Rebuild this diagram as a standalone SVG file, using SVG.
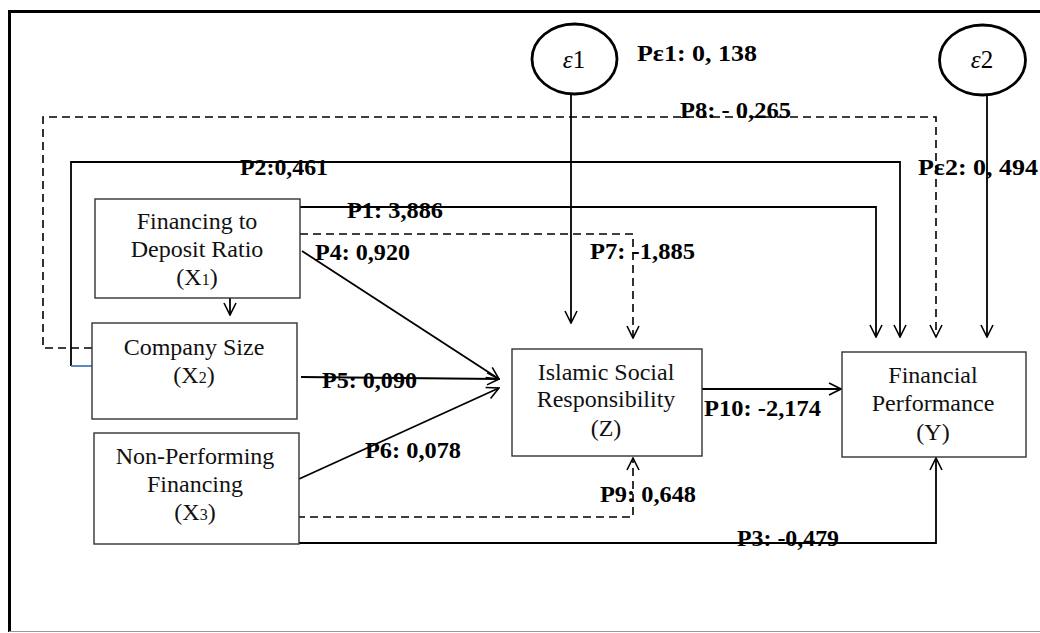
<svg xmlns="http://www.w3.org/2000/svg" width="1040" height="633" viewBox="0 0 1040 633">
<defs>
<marker id="arr" viewBox="0 0 14 14" refX="13" refY="7" markerWidth="14" markerHeight="14" markerUnits="userSpaceOnUse" orient="auto">
<path d="M1,1 L13,7 L1,13" fill="none" stroke="#000" stroke-width="1.6"/>
</marker>
<style>
.box{fill:#fff;stroke:#333;stroke-width:1.4}
.ell{fill:#fff;stroke:#000;stroke-width:2.8}
.ln{fill:none;stroke:#000;stroke-width:1.8}
.ds{fill:none;stroke:#000;stroke-width:1.6;stroke-dasharray:8,5}
.nt{font-family:"Liberation Serif","Times New Roman",serif;font-size:24px;fill:#111;text-anchor:middle}
.lb{font-family:"Liberation Serif","Times New Roman",serif;font-size:23px;font-weight:bold;fill:#000}
.eps{font-family:"Liberation Serif","Times New Roman",serif;font-size:25px;fill:#000;text-anchor:middle}
</style>
</defs>
<rect x="0" y="0" width="1040" height="633" fill="#fff"/>
<g id="frame">
<line x1="8" y1="11.5" x2="1040" y2="11.5" stroke="#000" stroke-width="3"/>
<line x1="9.5" y1="10" x2="9.5" y2="632" stroke="#000" stroke-width="3"/>
<line x1="9" y1="631.5" x2="1040" y2="631.5" stroke="#999" stroke-width="1.2"/>
</g>
<g id="connectors">
<path class="ds" d="M92,348 H43 V117 H936 V337" marker-end="url(#arr)"/>
<path class="ln" d="M71,366 V162 H900 V337" marker-end="url(#arr)"/>
<line x1="71" y1="366" x2="92" y2="366" stroke="#4a7ebb" stroke-width="1.8"/>
<path class="ln" d="M300,207 H876 V337" marker-end="url(#arr)"/>
<path class="ds" d="M300,234 H633 V338" marker-end="url(#arr)"/>
<path class="ln" d="M571,94 V323" marker-end="url(#arr)"/>
<path class="ln" d="M987,95 V337" marker-end="url(#arr)"/>
<path class="ln" d="M230,287 V315" marker-end="url(#arr)"/>
<path class="ln" d="M302,251 L499,379" marker-end="url(#arr)"/>
<path class="ln" d="M301,377 L499,379" marker-end="url(#arr)"/>
<path class="ln" d="M299,479 L499,388" marker-end="url(#arr)"/>
<path class="ds" d="M297,517 H633 V458" marker-end="url(#arr)"/>
<path class="ln" d="M299,543 H936 V458" marker-end="url(#arr)"/>
<path class="ln" d="M702,389 H841" marker-end="url(#arr)"/>
</g>
<g id="e1">
<ellipse class="ell" cx="574.5" cy="59" rx="42.5" ry="35"/>
<text class="eps" x="574" y="68"><tspan font-style="italic">ε</tspan>1</text>
</g>
<g id="e2">
<ellipse class="ell" cx="982.5" cy="60" rx="43" ry="35"/>
<text class="eps" x="982" y="68"><tspan font-style="italic">ε</tspan>2</text>
</g>
<g id="X1">
<rect class="box" x="95" y="199" width="205" height="99"/>
<text class="nt" x="197" y="229">Financing to</text>
<text class="nt" x="197" y="257">Deposit Ratio</text>
<text class="nt" x="197" y="285">(X<tspan font-size="16">1</tspan>)</text>
</g>
<g id="X2">
<rect class="box" x="92" y="323" width="205" height="96"/>
<text class="nt" x="194" y="355">Company Size</text>
<text class="nt" x="194" y="383">(X<tspan font-size="16">2</tspan>)</text>
</g>
<g id="X3">
<rect class="box" x="94" y="433" width="205" height="111"/>
<text class="nt" x="195" y="464">Non-Performing</text>
<text class="nt" x="195" y="492">Financing</text>
<text class="nt" x="195" y="520">(X<tspan font-size="16">3</tspan>)</text>
</g>
<g id="Z">
<rect class="box" x="512" y="349" width="190" height="107"/>
<text class="nt" x="606" y="380">Islamic Social</text>
<text class="nt" x="606" y="407">Responsibility</text>
<text class="nt" x="606" y="436">(Z)</text>
</g>
<g id="Y">
<rect class="box" x="842" y="352" width="184" height="105"/>
<text class="nt" x="933" y="383">Financial</text>
<text class="nt" x="933" y="411">Performance</text>
<text class="nt" x="933" y="440">(Y)</text>
</g>
<g id="labels">
<text class="lb" x="240" y="175" textLength="88" lengthAdjust="spacingAndGlyphs">P2:0,461</text>
<text class="lb" x="347" y="218" textLength="96" lengthAdjust="spacingAndGlyphs">P1: 3,886</text>
<text class="lb" x="315" y="260" textLength="95" lengthAdjust="spacingAndGlyphs">P4: 0,920</text>
<text class="lb" x="590" y="259" textLength="105" lengthAdjust="spacingAndGlyphs">P7: -1,885</text>
<text class="lb" x="680" y="118" textLength="111" lengthAdjust="spacingAndGlyphs">P8: - 0,265</text>
<text class="lb" x="637" y="61" textLength="120" lengthAdjust="spacingAndGlyphs">Pε1: 0, 138</text>
<text class="lb" x="918" y="175" textLength="120" lengthAdjust="spacingAndGlyphs">Pε2: 0, 494</text>
<text class="lb" x="322" y="388" textLength="95" lengthAdjust="spacingAndGlyphs">P5: 0,090</text>
<text class="lb" x="365" y="458" textLength="96" lengthAdjust="spacingAndGlyphs">P6: 0,078</text>
<text class="lb" x="704" y="416" textLength="117" lengthAdjust="spacingAndGlyphs">P10: -2,174</text>
<text class="lb" x="600" y="502" textLength="96" lengthAdjust="spacingAndGlyphs">P9: 0,648</text>
<text class="lb" x="737" y="546" textLength="102" lengthAdjust="spacingAndGlyphs">P3: -0,479</text>
</g>
</svg>
